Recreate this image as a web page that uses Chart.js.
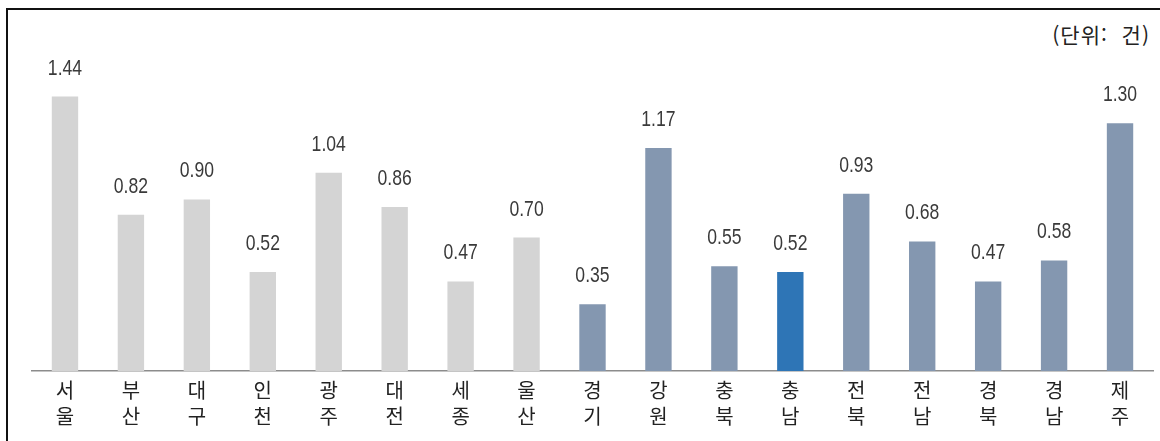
<!DOCTYPE html>
<html lang="ko">
<head>
<meta charset="utf-8">
<script src="https://cdn.jsdelivr.net/npm/chart.js@4.4.0/dist/chart.umd.min.js"></script>
<style>
  html, body { margin: 0; padding: 0; background: #fff; }
  #wrap { position: relative; width: 1160px; height: 441px; }
  #frame { position: absolute; left: 6px; top: 8px; right: -2px; bottom: -2px; border-left: 2px solid #111; border-top: 2px solid #111; }
  #unit { position: absolute; right: 10px; top: 19px; font: 21px "Noto Sans CJK KR", sans-serif; color: #222; letter-spacing: 1px; white-space: pre; }
  canvas { position: absolute; left: 0; top: 0; }
</style>
</head>
<body>
<div id="wrap">
  <div id="frame"></div>
  <div id="unit">(단위:  건)</div>
  <canvas id="chart" width="1160" height="441"></canvas>
</div>
<script>
const regions = ["서울", "부산", "대구", "인천", "광주", "대전", "세종", "울산",
  "경기", "강원", "충북", "충남", "전북", "전남", "경북", "경남", "제주"];
const counts = [1.44, 0.82, 0.90, 0.52, 1.04, 0.86, 0.47, 0.70,
  0.35, 1.17, 0.55, 0.52, 0.93, 0.68, 0.47, 0.58, 1.30];
// 특별·광역시 / 도 / 충남 강조
const groups = ["metro", "metro", "metro", "metro", "metro", "metro", "metro", "metro",
  "prov", "prov", "prov", "focus", "prov", "prov", "prov", "prov", "prov"];

const groupColors = { metro: "#D4D4D4", prov: "#8497B0", focus: "#2E75B6" };

// 막대 위 값 표시 (좁은 글꼴 느낌으로 가로 축소)
const valueLabels = {
  id: "valueLabels",
  afterDatasetsDraw(chart) {
    const ctx = chart.ctx;
    const meta = chart.getDatasetMeta(0);
    const sx = 0.8;
    ctx.save();
    ctx.font = '22px "Liberation Sans", sans-serif';
    ctx.fillStyle = "#3a3a3a";
    ctx.textAlign = "center";
    ctx.textBaseline = "alphabetic";
    meta.data.forEach((bar, i) => {
      ctx.save();
      ctx.translate(bar.x, bar.y - 22);
      ctx.scale(sx, 1);
      ctx.fillText(counts[i].toFixed(2), 0, 0);
      ctx.restore();
    });
    ctx.restore();
  },
};

new Chart(document.getElementById("chart").getContext("2d"), {
  type: "bar",
  data: {
    labels: regions.map((r) => r.split("")),
    datasets: [
      {
        data: counts,
        backgroundColor: groups.map((g) => groupColors[g]),
        barPercentage: 0.4,
        categoryPercentage: 1,
      },
    ],
  },
  options: {
    responsive: false,
    animation: false,
    layout: { padding: { left: 32, right: 7, top: 66, bottom: 6 } },
    plugins: { legend: { display: false }, tooltip: { enabled: false } },
    scales: {
      x: {
        grid: { display: false, drawTicks: false },
        border: { display: true, color: "#8c8c8c", width: 1.5 },
        ticks: {
          color: "#222",
          font: { family: '"Noto Sans CJK KR", sans-serif', size: 20, lineHeight: 1.3 },
          padding: 6,
          maxRotation: 0,
          autoSkip: false,
        },
      },
      y: { display: false, min: 0, max: 1.6 },
    },
  },
  plugins: [valueLabels],
});
</script>
</body>
</html>
